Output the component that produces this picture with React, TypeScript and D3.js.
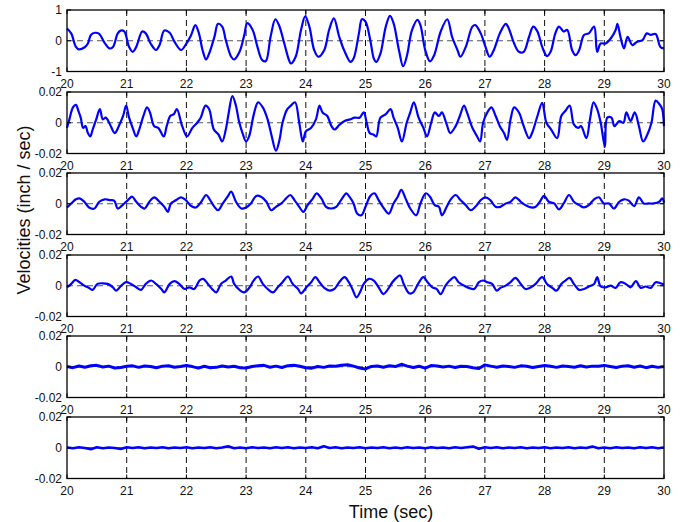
import React from 'react';
import * as d3 from 'd3';

// ---------- data ----------
const xTicks = [20, 21, 22, 23, 24, 25, 26, 27, 28, 29, 30];
const unit = 0.001; // panels 2-6 values are typed in units of 0.001 inch/sec

const p1T = [20.00,20.07,20.15,20.20,20.29,20.35,20.40,20.47,20.54,20.63,20.71,20.77,20.85,20.90,20.96,21.04,21.10,21.16,21.26,21.32,21.40,21.49,21.55,21.63,21.72,21.80,21.91,22.00,22.08,22.15,22.21,22.27,22.33,22.38,22.47,22.53,22.60,22.66,22.75,22.80,22.89,22.97,23.02,23.11,23.19,23.27,23.33,23.41,23.49,23.55,23.64,23.71,23.75,23.83,23.92,23.99,24.06,24.14,24.21,24.31,24.39,24.47,24.56,24.64,24.75,24.80,24.89,24.94,25.00,25.08,25.14,25.18,25.25,25.34,25.41,25.47,25.56,25.63,25.69,25.78,25.87,25.92,26.00,26.08,26.15,26.26,26.37,26.45,26.54,26.59,26.68,26.79,26.84,26.93,27.01,27.08,27.15,27.25,27.35,27.40,27.49,27.57,27.65,27.74,27.81,27.88,27.96,28.04,28.10,28.18,28.24,28.32,28.38,28.46,28.52,28.58,28.66,28.74,28.83,28.88,28.94,29.02,29.11,29.19,29.22,29.27,29.33,29.39,29.47,29.55,29.64,29.71,29.78,29.86,29.94,30.00];
const p1V = [0.40,0.24,-0.20,-0.28,-0.22,-0.09,0.19,0.26,0.22,-0.07,-0.25,-0.20,0.24,0.33,0.30,-0.20,-0.36,-0.20,0.30,0.24,-0.09,-0.30,-0.14,0.33,0.26,-0.03,-0.30,-0.09,0.19,0.51,0.24,-0.30,-0.61,-0.42,0.13,0.55,0.46,0.02,-0.52,-0.61,-0.36,0.19,0.57,0.35,-0.20,-0.63,-0.66,0.13,0.70,0.51,-0.09,-0.58,-0.74,-0.52,0.35,0.79,0.46,-0.30,-0.52,-0.30,0.35,0.73,0.13,-0.30,-0.69,-0.58,0.24,0.70,0.62,0.02,-0.58,-0.69,-0.42,0.46,0.81,0.57,-0.30,-0.83,-0.52,0.35,0.68,0.51,-0.30,-0.67,-0.47,0.30,0.70,0.13,-0.30,-0.52,-0.20,0.46,0.51,0.24,-0.20,-0.52,-0.30,0.24,0.55,0.40,-0.09,-0.36,-0.36,0.13,0.46,0.30,-0.20,-0.50,-0.36,0.24,0.46,0.30,0.35,-0.30,-0.47,-0.30,0.19,0.24,0.46,-0.36,-0.09,-0.09,0.08,0.35,0.55,0.13,-0.25,0.13,-0.14,-0.03,0.02,0.24,0.19,0.22,-0.20,-0.25];

const p2T = [20.00,20.04,20.10,20.15,20.19,20.23,20.27,20.31,20.35,20.39,20.43,20.49,20.55,20.60,20.65,20.72,20.80,20.88,20.94,20.99,21.04,21.10,21.16,21.21,21.28,21.34,21.39,21.46,21.53,21.62,21.67,21.73,21.79,21.84,21.93,22.01,22.10,22.18,22.24,22.32,22.38,22.46,22.54,22.60,22.66,22.71,22.77,22.83,22.88,22.94,23.00,23.05,23.13,23.20,23.28,23.36,23.43,23.50,23.56,23.61,23.69,23.75,23.82,23.89,23.95,24.00,24.09,24.17,24.23,24.28,24.36,24.43,24.48,24.57,24.65,24.74,24.82,24.90,24.97,25.02,25.07,25.14,25.18,25.25,25.34,25.42,25.47,25.54,25.61,25.69,25.75,25.81,25.89,25.97,26.03,26.10,26.16,26.23,26.28,26.36,26.42,26.51,26.58,26.65,26.70,26.79,26.87,26.92,26.97,27.04,27.11,27.18,27.25,27.32,27.37,27.43,27.49,27.57,27.65,27.74,27.79,27.88,27.96,28.03,28.11,28.21,28.28,28.35,28.42,28.49,28.56,28.61,28.70,28.76,28.82,28.88,28.94,29.01,29.05,29.12,29.17,29.25,29.32,29.37,29.44,29.51,29.58,29.65,29.72,29.79,29.86,29.92,29.97,30.00];
const p2V = [-3.3,2.2,10,11.6,7.8,3.3,-3.3,-2.2,-6.7,-8.9,-4.4,2.2,8.9,2.2,3.3,-1.1,-6.7,-1.1,4.4,11.1,3.3,-3.3,-8.9,-4.4,4.4,10,6.7,-2.2,-3.3,-8.9,-2.2,4.4,5.6,8.9,-2.2,-8.9,-3.3,0,3.3,11.1,8.9,-4.4,-7.8,-12.2,-4.4,6.7,17.3,11.1,1.1,-6.7,-12.2,-8.9,5.6,13.3,10,2.2,-8.9,-18.2,-11.1,0,8.9,11.1,13.3,0,-12.2,-5.6,-3.3,2.2,11.1,6.7,4.4,-2.2,-4.4,-1.1,1.1,2.2,3.3,3.3,6.7,0,-6.7,-7.8,-8.9,3.3,5.6,8.9,3.3,-3.3,-12.2,0,6.7,13.3,3.3,-3.3,-8.9,0,6.7,4.4,6.7,-1.1,-6.7,-2.2,4.4,11.1,6.7,-3.3,-8.9,-12.2,0,6.7,10,4.4,-2.2,-6.7,-11.1,2.2,10,6.7,-2.2,-10,-6.7,4.4,12.9,0,-4.4,-10,4.4,7.8,11.1,-1.1,-3.3,-2.2,-10,2.2,13.3,8.9,0,-15.6,3.3,3.3,-2.2,1.1,0,6.7,1.1,6.7,-2.2,-12.2,-7.8,0,14.4,12.2,8.9,-2.2];

const p3T = [20.00,20.07,20.15,20.21,20.29,20.37,20.46,20.54,20.63,20.71,20.79,20.85,20.93,21.02,21.09,21.16,21.24,21.30,21.38,21.46,21.55,21.63,21.69,21.74,21.83,21.91,21.99,22.08,22.16,22.25,22.33,22.39,22.47,22.53,22.61,22.69,22.75,22.83,22.92,23.00,23.08,23.17,23.25,23.34,23.42,23.50,23.59,23.67,23.74,23.81,23.89,23.96,24.03,24.12,24.18,24.26,24.34,24.42,24.51,24.59,24.68,24.73,24.80,24.86,24.93,25.00,25.08,25.15,25.22,25.31,25.39,25.47,25.54,25.60,25.67,25.75,25.85,25.92,26.01,26.08,26.16,26.23,26.28,26.36,26.42,26.51,26.59,26.68,26.76,26.84,26.93,27.01,27.09,27.18,27.26,27.35,27.43,27.51,27.60,27.68,27.77,27.85,27.92,27.99,28.07,28.16,28.24,28.32,28.41,28.49,28.58,28.66,28.74,28.83,28.91,28.99,29.08,29.16,29.25,29.33,29.41,29.50,29.58,29.66,29.75,29.83,29.92,29.97,30.00];
const p3V = [-2.4,0.2,2.9,3.5,1.3,-2.4,-3.1,1.3,2.9,2.4,2,-3.1,-0.9,2.4,4.6,1.3,-2,-3.1,1.3,4.2,1.3,-2,-5.3,0.2,2.4,4.2,2.4,-1.5,-2.4,1.3,5.7,2.9,-2,-4.2,0.2,4.6,7.9,1.3,-3.1,-2.4,0.2,5.1,4.6,1.3,-4.2,-2,0.2,3.5,5.7,2.4,-2,-5.3,-0.9,3.5,6.8,3.5,-2,-3.1,-2,2.4,6.8,4.6,0.2,-6.4,-7.5,-2,5.1,6.8,2.4,-3.1,-6.4,0.2,4.6,9,3.5,-3.1,-7.5,0.2,6.8,4.6,-0.9,-2,-7.5,-2,2.4,5.7,2.4,-0.9,-4.2,-2,2.4,4.2,2.4,-2,-2,0.2,1.3,4.2,1.3,-0.9,-2.4,-2,1.3,5.1,1.3,0.2,-3.7,0.2,5.7,1.3,-0.9,-2.4,-0.9,2.9,4.2,0.2,0.2,-3.1,1.3,2.9,2,-1.5,4.2,0.2,0.2,0.2,1.3,3.5,0.7];

const p4T = [20.00,20.07,20.14,20.21,20.29,20.37,20.43,20.51,20.60,20.68,20.77,20.82,20.91,20.99,21.07,21.16,21.24,21.32,21.41,21.49,21.58,21.63,21.72,21.80,21.88,21.97,22.05,22.13,22.22,22.28,22.36,22.43,22.50,22.58,22.66,22.75,22.80,22.89,22.97,23.06,23.12,23.20,23.28,23.36,23.45,23.53,23.61,23.70,23.78,23.87,23.92,24.01,24.09,24.16,24.23,24.31,24.40,24.48,24.56,24.65,24.72,24.78,24.85,24.92,24.97,25.06,25.14,25.22,25.30,25.36,25.45,25.50,25.58,25.64,25.73,25.80,25.88,25.97,26.04,26.12,26.19,26.26,26.34,26.41,26.49,26.56,26.65,26.73,26.82,26.90,26.97,27.04,27.12,27.20,27.26,27.35,27.43,27.51,27.60,27.68,27.77,27.85,27.96,28.04,28.13,28.20,28.28,28.35,28.42,28.49,28.58,28.66,28.74,28.83,28.88,28.94,29.02,29.11,29.19,29.27,29.36,29.44,29.53,29.61,29.69,29.78,29.86,29.94,30.00];
const p4V = [-1,1.2,3.8,2.3,0.1,-1.4,-2.7,1.2,1.6,1.2,-1,-3.2,0.1,2.3,1.2,-1,-2.7,1.2,3.4,1.2,-2.1,-4.3,1.2,3,1.2,-2.1,-1,-2.1,3.4,4.5,1.2,-2.1,-4.3,1.2,3.4,6,1.2,-2.7,-4.3,-1,3,6,1.2,-2.1,-4.3,-1,2.3,6,1.2,-2.1,-4.9,-1,2.3,5.6,2.3,-1.4,-3.2,-2.1,2.3,5.6,2.3,-2.1,-7.5,-3.2,1.2,4.5,3.4,-1,-5.4,-3.2,2.3,4.5,6.7,1.2,-4.9,-4.3,1.2,5.6,2.3,-1,-2.1,-5.4,0.1,3.4,5.6,2.3,0.1,-1.4,-2.1,2.3,3.4,2.3,1.2,-3.2,-1.4,0.1,2.3,5.1,1.2,-2.1,-1,1.2,5.6,1.2,-1.4,-3.2,1.2,3.4,5.1,1.2,-2.7,-2.1,-0.5,1.2,5.6,-0.5,-1,0.1,-1.4,2.3,1.2,-1,3,-1.4,-0.5,-1.4,2.3,1.6,0.8];

// panels 5 and 6: sampled every 0.1 s from 20.0 to 30.0
const p5V = [0.2,-0.6,0.5,-0.3,0.6,0.9,-0.2,0.4,-0.8,-0.5,
  0.3,0.6,-0.4,0.5,0.2,-0.6,0.4,0.7,-0.3,0.2,
  0.8,0.1,-0.9,0.3,-0.7,-0.4,0.5,-0.2,0.3,-0.6,
  -0.8,0.2,0.6,0.9,-0.3,0.4,-0.5,0.7,1.0,0.3,
  -0.7,-0.9,0.2,-0.4,0.5,0.3,1.0,1.3,0.4,-0.8,
  -1.4,0.2,0.5,-0.3,0.6,0.1,1.6,0.4,-0.5,0.3,
  -0.9,0.8,0.5,-0.2,0.4,-0.5,0.3,0.2,-0.6,-1.1,
  1.2,0.4,-0.3,0.5,0.2,-0.4,0.6,0.3,-0.5,0.2,
  0.8,0.3,-0.4,0.5,0.1,-0.3,0.6,-0.2,0.4,0.3,
  0.9,0.2,-0.5,0.4,0.6,-0.3,0.5,-0.6,0.3,-0.4,
  0.2];
const p6V = [0.2,-0.3,0.3,-0.2,-0.9,0.3,-0.3,0.2,-0.2,-0.8,
  0.3,-0.2,0.3,-0.3,0.2,-0.2,0.3,-0.3,0.2,-0.2,
  0.3,-0.3,0.2,-0.2,0.3,-0.3,0.2,0.9,-0.3,0.2,
  -0.3,0.3,-0.2,0.2,-0.3,0.3,-0.2,0.3,-0.3,0.2,
  -0.2,0.3,-0.3,0.9,-0.2,0.3,-0.3,0.2,-0.2,0.3,
  -0.3,0.2,-0.2,0.3,-0.3,0.2,-0.3,0.3,-0.2,0.2,
  -0.3,0.3,-0.2,0.2,-0.3,0.3,-0.2,0.3,0.8,-0.7,
  0.3,-0.2,0.3,-0.3,0.2,-0.2,0.3,-0.3,0.2,-0.2,
  0.3,-0.3,0.2,-0.2,0.3,-0.3,0.2,-0.2,0.8,-0.3,
  0.2,-0.3,0.3,-0.2,0.2,-0.3,0.3,-0.2,0.3,-0.3,
  0.2];
const gridT = d3.range(101).map(i => 20 + i * 0.1);

const bigTicks = [-1, 0, 1];
const bigTickLabels = ['-1', '0', '1'];
const smallTicks = [-0.02, 0, 0.02];
const smallTickLabels = ['-0.02', '0', '0.02'];

const yLabel = 'Velocities (inch / sec)';
const xLabel = 'Time (sec)';

// ---------- layout ----------
const W = 680, H = 522;
const L = 67, R = 664;
const panelTops = [10, 92, 173, 255, 336, 417];
const PH = 61.5;
const FONT = '"Liberation Sans", Arial, Helvetica, sans-serif';

type Panel = { t: number[]; v: number[]; scale: number; dom: [number, number]; ticks: number[]; labels: string[]; sw: number; smooth: boolean };

const panels: Panel[] = [
  { t: p1T, v: p1V, scale: 1, dom: [-1, 1], ticks: bigTicks, labels: bigTickLabels, sw: 2.2, smooth: true },
  { t: p2T, v: p2V, scale: unit, dom: [-0.02, 0.02], ticks: smallTicks, labels: smallTickLabels, sw: 2.2, smooth: true },
  { t: p3T, v: p3V, scale: unit, dom: [-0.02, 0.02], ticks: smallTicks, labels: smallTickLabels, sw: 2.2, smooth: true },
  { t: p4T, v: p4V, scale: unit, dom: [-0.02, 0.02], ticks: smallTicks, labels: smallTickLabels, sw: 2.2, smooth: true },
  { t: gridT, v: p5V, scale: unit, dom: [-0.02, 0.02], ticks: smallTicks, labels: smallTickLabels, sw: 3, smooth: false },
  { t: gridT, v: p6V, scale: unit, dom: [-0.02, 0.02], ticks: smallTicks, labels: smallTickLabels, sw: 2.6, smooth: false },
];

export default function App() {
  const x = d3.scaleLinear().domain([20, 30]).range([L, R]);
  return (
    <svg width={W} height={H} viewBox={`0 0 ${W} ${H}`}
      style={{ position: 'absolute', left: 0, top: 0, display: 'block', background: '#fff' }}>
      <rect x={0} y={0} width={W} height={H} fill="#fff" />
      {panels.map((p, i) => {
        const top = panelTops[i];
        const y = d3.scaleLinear().domain(p.dom).range([top + PH, top]);
        const pts = p.t.map((t, k) => [t, p.v[k] * p.scale] as [number, number]);
        const line = d3.line<[number, number]>().x(d => x(d[0])).y(d => y(d[1]))
          .curve(p.smooth ? d3.curveCatmullRom.alpha(0.5) : d3.curveLinear);
        return (
          <g key={i}>
            {/* grid */}
            {xTicks.slice(1, -1).map(t => (
              <line key={'gx' + t} x1={x(t)} x2={x(t)} y1={top} y2={top + PH}
                stroke="#111" strokeWidth={1} strokeDasharray="6,4" />
            ))}
            {p.ticks.slice(1, -1).map(v => (
              <line key={'gy' + v} x1={L} x2={R} y1={y(v)} y2={y(v)}
                stroke="#555" strokeWidth={1} strokeDasharray="6,4" />
            ))}
            {/* data */}
            <path d={line(pts) || ''} fill="none" stroke="#0000ff" strokeWidth={p.sw} strokeLinejoin="round" />
            {/* box */}
            <rect x={L} y={top} width={R - L} height={PH} fill="none" stroke="#000" strokeWidth={1.3} />
            {/* y ticks */}
            {p.ticks.map((v, k) => (
              <g key={'yt' + k}>
                <line x1={L} x2={L + 4} y1={y(v)} y2={y(v)} stroke="#000" />
                <line x1={R} x2={R - 4} y1={y(v)} y2={y(v)} stroke="#000" />
                <text x={L - 5} y={y(v)} dy="0.35em" textAnchor="end" fontFamily={FONT} fontSize={12} fill="#111">{p.labels[k]}</text>
              </g>
            ))}
            {/* x ticks */}
            {xTicks.map(t => (
              <g key={'xt' + t}>
                <line x1={x(t)} x2={x(t)} y1={top + PH} y2={top + PH - 4} stroke="#000" />
                <line x1={x(t)} x2={x(t)} y1={top} y2={top + 4} stroke="#000" />
                <text x={x(t)} y={top + PH + 16} textAnchor="middle" fontFamily={FONT} fontSize={12} fill="#111">{t}</text>
              </g>
            ))}
          </g>
        );
      })}
      <text x={391} y={518} textAnchor="middle" fontFamily={FONT} fontSize={18} fill="#111">{xLabel}</text>
      <text transform="translate(30,210) rotate(-90)" textAnchor="middle" fontFamily={FONT} fontSize={18} fill="#111">{yLabel}</text>
    </svg>
  );
}
